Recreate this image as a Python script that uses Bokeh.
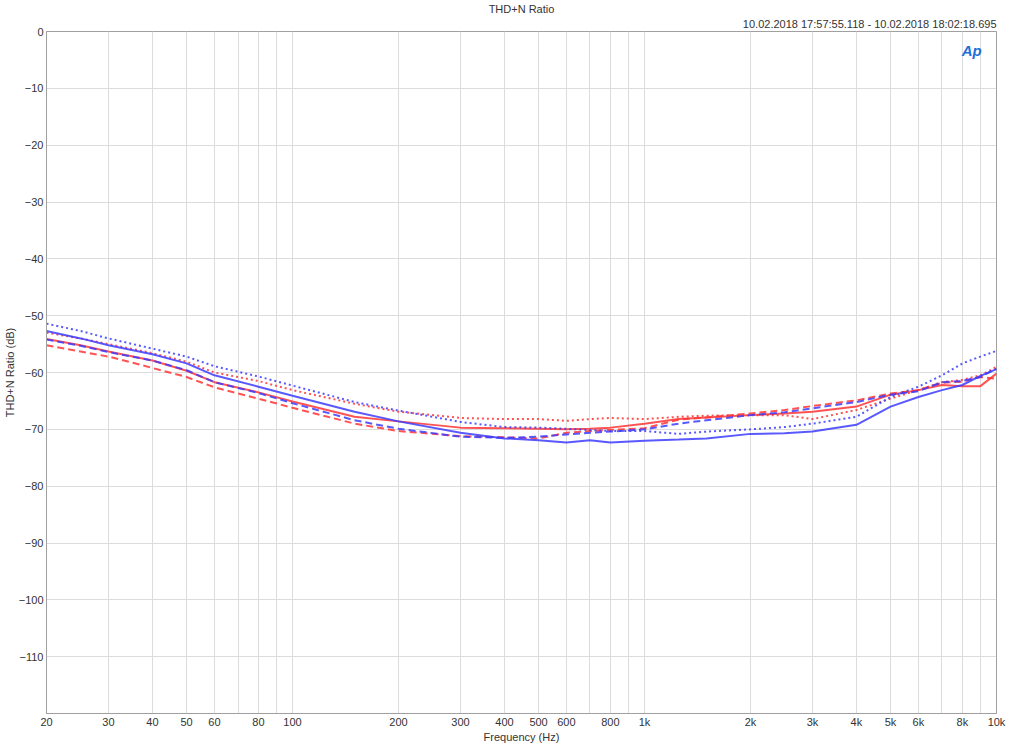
from bokeh.plotting import figure
from bokeh.models import FixedTicker, Title, Label, Range1d
from bokeh.embed import file_html
from bokeh.resources import INLINE

freq = [20, 25, 30, 40, 50, 60, 80, 100, 150, 200, 300, 400, 500, 600, 700, 800,
        1000, 1250, 1500, 2000, 2500, 3000, 4000, 5000, 6000, 7000, 8000, 9000, 10000]

blue_solid = [-52.7, -54.0, -55.2, -56.8, -58.4, -60.5, -62.5, -64.1, -66.9, -68.6, -70.6, -71.6, -71.9, -72.3, -71.9,
              -72.3, -72.0, -71.8, -71.6, -70.8, -70.7, -70.4, -69.2, -66.0, -64.3, -63.1, -62.2, -60.6, -59.4]
blue_dashed = [-54.2, -55.3, -56.4, -57.9, -59.6, -61.7, -63.6, -65.4, -68.4, -69.9, -71.3, -71.5, -71.3, -70.9, -70.6,
               -70.4, -70.0, -69.0, -68.4, -67.5, -67.0, -66.3, -65.2, -63.9, -63.3, -61.7, -61.5, -60.8, -59.3]
blue_dotted = [-51.4, -52.7, -54.0, -55.8, -57.2, -58.9, -60.7, -62.3, -65.2, -66.7, -68.7, -69.6, -69.7, -69.9, -70.1,
               -70.3, -70.3, -70.8, -70.4, -70.0, -69.6, -69.0, -67.8, -64.3, -62.5, -60.5, -58.4, -57.2, -56.2]
red_solid = [-54.1, -55.2, -56.3, -57.9, -59.7, -61.7, -63.5, -65.1, -67.8, -68.6, -69.7, -69.8, -69.9, -70.0, -69.9,
             -69.7, -69.0, -68.2, -67.9, -67.5, -67.2, -66.9, -66.0, -63.9, -63.1, -62.2, -62.4, -62.4, -60.2]
red_dashed = [-55.2, -56.3, -57.2, -59.2, -60.8, -62.6, -64.6, -66.2, -69.0, -70.3, -71.2, -71.4, -71.6, -70.6, -70.3,
              -70.1, -69.8, -68.3, -67.9, -67.2, -66.6, -65.9, -64.9, -63.7, -63.1, -61.8, -61.6, -60.8, -61.1]
red_dotted = [-53.0, -54.0, -55.0, -56.6, -58.1, -60.0, -61.5, -63.1, -65.5, -66.9, -68.0, -68.2, -68.2, -68.5, -68.2,
              -68.0, -68.2, -67.8, -67.6, -67.5, -67.5, -68.2, -66.6, -64.6, -63.1, -61.7, -61.3, -60.5, -59.0]

x_ticks = [20, 30, 40, 50, 60, 80, 100, 200, 300, 400, 500, 600, 800, 1000, 2000, 3000, 4000, 5000, 6000, 8000, 10000]
x_tick_labels = ["20", "30", "40", "50", "60", "80", "100", "200", "300", "400", "500", "600", "800",
                 "1k", "2k", "3k", "4k", "5k", "6k", "8k", "10k"]
x_grid = [20, 30, 40, 50, 60, 70, 80, 90, 100, 200, 300, 400, 500, 600, 700, 800, 900,
          1000, 2000, 3000, 4000, 5000, 6000, 7000, 8000, 9000, 10000]
y_ticks = [0, -10, -20, -30, -40, -50, -60, -70, -80, -90, -100, -110]

title_text = "THD+N Ratio"
subtitle_text = "10.02.2018 17:57:55.118 - 10.02.2018 18:02:18.695"
x_label = "Frequency (Hz)"
y_label = "THD+N Ratio (dB)"
logo_text = "Ap"

FONT = "Liberation Sans"
BLUE = "#3C3CFF"
RED = "#FF3535"
TXT = "#333333"

p = figure(width=1008, height=745, x_axis_type="log",
           x_range=Range1d(20, 10000), y_range=Range1d(-120, 0),
           output_backend="svg", toolbar_location=None, title=None,
           min_border_left=43, min_border_right=12, min_border_top=0, min_border_bottom=0)

p.add_layout(Title(text=subtitle_text, align="right", text_font=FONT, text_font_size="11px",
                   text_font_style="normal", text_color=TXT, standoff=3, text_line_height=1.0), "above")
p.add_layout(Title(text=title_text, align="center", text_font=FONT, text_font_size="11px",
                   text_font_style="normal", text_color=TXT, standoff=0, text_line_height=1.0), "above")

p.background_fill_color = "white"
p.border_fill_color = "white"
p.outline_line_color = "#A0A0A0"

p.xaxis.ticker = FixedTicker(ticks=x_ticks)
p.xaxis.major_label_overrides = {t: l for t, l in zip(x_ticks, x_tick_labels)}
p.yaxis.ticker = FixedTicker(ticks=y_ticks)
p.xgrid.ticker = FixedTicker(ticks=x_grid)
p.ygrid.ticker = FixedTicker(ticks=y_ticks)
for g in (p.xgrid, p.ygrid):
    g.grid_line_color = "#DCDCDC"
    g.grid_line_width = 1

for ax in (p.xaxis, p.yaxis):
    ax.axis_line_color = "#A0A0A0"
    ax.major_tick_line_color = None
    ax.minor_tick_line_color = None
    ax.major_tick_out = 0
    ax.major_tick_in = 0
    ax.major_label_text_font = FONT
    ax.major_label_text_font_size = "11px"
    ax.major_label_text_color = TXT
    ax.major_label_text_line_height = 1.0
    ax.axis_label_text_font = FONT
    ax.axis_label_text_font_size = "11px"
    ax.axis_label_text_font_style = "normal"
    ax.axis_label_text_color = TXT
    ax.axis_label_text_line_height = 1.0
p.xaxis.axis_label = x_label
p.yaxis.axis_label = y_label
p.xaxis.major_label_standoff = 2
p.xaxis.axis_label_standoff = 0
p.yaxis.major_label_standoff = 3
p.yaxis.axis_label_standoff = 0

series = [
    (red_dotted, RED, "2 3"),
    (red_dashed, RED, "7 4"),
    (red_solid, RED, "solid"),
    (blue_dotted, BLUE, "2 3"),
    (blue_dashed, BLUE, "7 4"),
    (blue_solid, BLUE, "solid"),
]
for ys, col, dash in series:
    p.line(freq, ys, line_color=col, line_width=2, line_alpha=0.85, line_dash=dash)

logo = Label(x=8500, y=-3.3, text=logo_text,
             text_font=FONT, text_font_size="15px", text_font_style="bold italic",
             text_color="#1E6FD8", text_align="center", text_baseline="middle")
p.add_layout(logo)

open("out.html", "w").write(file_html(p, INLINE))
